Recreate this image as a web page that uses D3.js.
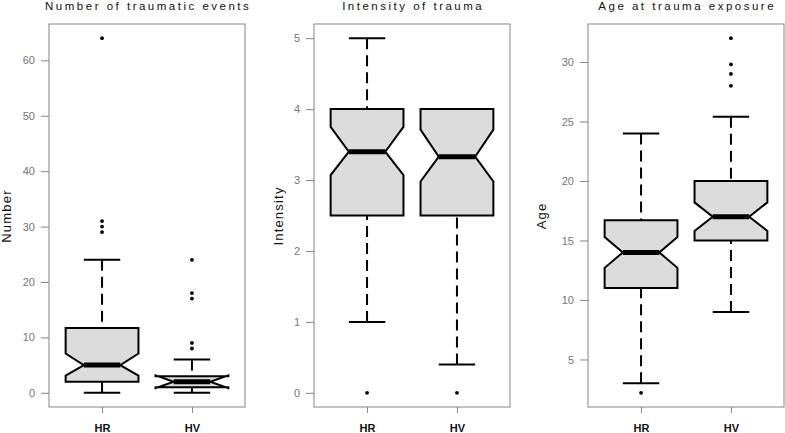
<!DOCTYPE html>
<html>
<head>
<meta charset="utf-8">
<script src="https://cdn.jsdelivr.net/npm/d3@7"></script>
<style>
	body { margin: 0; background: #fff; }
	svg { display: block; }
</style>
</head>
<body>
<div id="chart-area"></div>
<script>

// groups on the x axis
var groups = ["HR", "HV"];

// panel titles and y labels
var titles = ["Number of traumatic events", "Intensity of trauma", "Age at trauma exposure"];
var yLabels = ["Number", "Intensity", "Age"];

// box stats per group: [lower whisker, Q1, median, Q3, upper whisker]
var eventsStats = [[0, 2, 5, 11.7, 24], [0, 1, 2, 3, 6]];
var eventsNotch = [[3.1, 7.1], [0.85, 3.15]];
var eventsOutliers = [[29, 30, 31, 64], [8, 9, 17, 18, 24]];
var eventsTicks = [0, 10, 20, 30, 40, 50, 60];

var intensityStats = [[1, 2.5, 3.4, 4, 5], [0.4, 2.5, 3.33, 4, 4]];
var intensityNotch = [[3.07, 3.75], [2.98, 3.71]];
var intensityOutliers = [[0], [0]];
var intensityTicks = [0, 1, 2, 3, 4, 5];

var ageStats = [[3, 11, 14, 16.7, 24], [9, 15, 17, 20, 25.4]];
var ageNotch = [[12.7, 15.3], [15.8, 18.2]];
var ageOutliers = [[2.2], [28, 29, 29.8, 32]];
var ageTicks = [5, 10, 15, 20, 25, 30];

var width = 785,
	height = 433;

var svg = d3.select("#chart-area").append("svg")
	.attr("width", width)
	.attr("height", height);

var panels = [
	{stats: eventsStats, notch: eventsNotch, outliers: eventsOutliers, ticks: eventsTicks, left: 49, labelX: 11},
	{stats: intensityStats, notch: intensityNotch, outliers: intensityOutliers, ticks: intensityTicks, left: 314, labelX: 283},
	{stats: ageStats, notch: ageNotch, outliers: ageOutliers, ticks: ageTicks, left: 588, labelX: 546}
];

// window.top is read only, so the plot edges get their own names
var plotW = 196,
	plotTop = 24,
	plotBottom = 407;

var frameColor = "#858585";
var textFont = "'Liberation Sans', Arial, sans-serif";

panels.forEach(function(p, i) {
	var g = svg.append("g");

	// R style range: data extent plus 4% each side
	var all = [];
	p.stats.forEach(function(s) { all = all.concat(s); });
	p.outliers.forEach(function(o) { all = all.concat(o); });
	var ext = d3.extent(all);
	var pad = (ext[1] - ext[0]) * 0.04;

	var y = d3.scaleLinear()
		.domain([ext[0] - pad, ext[1] + pad])
		.range([plotBottom, plotTop]);

	var x = d3.scalePoint()
		.domain(groups)
		.range([p.left, p.left + plotW])
		.padding(0.59);

	var hw = x.step() * 0.405;

	// frame
	g.append("rect")
		.attr("x", p.left)
		.attr("y", plotTop)
		.attr("width", plotW)
		.attr("height", plotBottom - plotTop)
		.attr("fill", "none")
		.attr("stroke", frameColor)
		.attr("stroke-width", 1);

	// y axis
	var yAxis = d3.axisLeft(y)
		.tickValues(p.ticks)
		.tickFormat(d3.format("d"))
		.tickSize(8)
		.tickPadding(6);
	var ya = g.append("g")
		.attr("transform", "translate(" + p.left + ",0)")
		.call(yAxis);
	ya.select(".domain").remove();
	ya.selectAll("line").attr("stroke", frameColor);
	ya.selectAll("text")
		.attr("fill", "#767676")
		.style("font-family", "'Liberation Sans Narrow', 'Arial Narrow', " + textFont)
		.style("font-size", "11px");

	// x axis
	var xAxis = d3.axisBottom(x)
		.tickSize(6)
		.tickPadding(11);
	var xa = g.append("g")
		.attr("transform", "translate(0," + plotBottom + ")")
		.call(xAxis);
	xa.select(".domain").remove();
	xa.selectAll("line").attr("stroke", frameColor);
	xa.selectAll("text")
		.attr("fill", "#111")
		.style("font-family", textFont)
		.style("font-size", "11px")
		.style("font-weight", "bold");

	// title
	g.append("text")
		.attr("x", p.left + plotW / 2 + 1.2)
		.attr("y", 10)
		.attr("text-anchor", "middle")
		.style("font-family", textFont)
		.style("font-size", "11.5px")
		.style("letter-spacing", "2.5px")
		.attr("fill", "#111")
		.text(titles[i]);

	// y label
	g.append("text")
		.attr("transform", "translate(" + p.labelX + ",216) rotate(-90)")
		.attr("text-anchor", "middle")
		.style("font-family", textFont)
		.style("font-size", "13px")
		.style("letter-spacing", "1.2px")
		.attr("fill", "#111")
		.text(yLabels[i]);

	groups.forEach(function(grp, j) {
		var s = p.stats[j],
			n = p.notch[j],
			cx = x(grp);

		// whiskers, dashed, drawn from the end toward the hinge
		[[s[0], s[1]], [s[4], s[3]]].forEach(function(w) {
			if (w[0] == w[1]) return;
			g.append("line")
				.attr("x1", cx).attr("x2", cx)
				.attr("y1", y(w[0])).attr("y2", y(w[1]))
				.attr("stroke", "#000")
				.attr("stroke-width", 2)
				.attr("stroke-dasharray", "11,6");
			g.append("line")
				.attr("x1", cx - hw / 2).attr("x2", cx + hw / 2)
				.attr("y1", y(w[0])).attr("y2", y(w[0]))
				.attr("stroke", "#000")
				.attr("stroke-width", 2);
		});

		// notched box, same point order as R's bxp
		var pts = [
			[cx - hw, y(s[1])], [cx + hw, y(s[1])], [cx + hw, y(n[0])],
			[cx + hw * 0.5, y(s[2])], [cx + hw, y(n[1])], [cx + hw, y(s[3])],
			[cx - hw, y(s[3])], [cx - hw, y(n[1])], [cx - hw * 0.5, y(s[2])],
			[cx - hw, y(n[0])]
		];
		g.append("path")
			.attr("d", d3.line()(pts) + "Z")
			.attr("fill", "#dcdcdc")
			.attr("stroke", "#000")
			.attr("stroke-width", 2)
			.attr("stroke-linejoin", "miter");

		// median
		g.append("line")
			.attr("x1", cx - hw * 0.5).attr("x2", cx + hw * 0.5)
			.attr("y1", y(s[2])).attr("y2", y(s[2]))
			.attr("stroke", "#000")
			.attr("stroke-width", 5);

		// outliers
		g.selectAll(null)
			.data(p.outliers[j])
			.enter()
			.append("circle")
			.attr("cx", cx)
			.attr("cy", function(d) { return y(d); })
			.attr("r", 1.9)
			.attr("fill", "#000");
	});
});

</script>
</body>
</html>
